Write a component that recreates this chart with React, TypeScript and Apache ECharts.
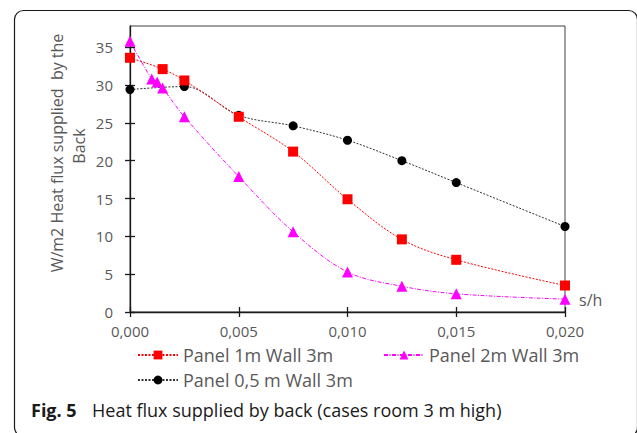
import React, { useEffect, useRef } from "react";
import * as echarts from "echarts";

const panel1mX = [0, 0.0015, 0.0025, 0.005, 0.0075, 0.01, 0.0125, 0.015, 0.02];
const panel1mY = [33.6, 32.1, 30.6, 25.8, 21.2, 14.9, 9.6, 6.9, 3.5];
const panel2mX = [0, 0.001, 0.00125, 0.0015, 0.0025, 0.005, 0.0075, 0.01, 0.0125, 0.015, 0.02];
const panel2mY = [35.8, 30.8, 30.4, 29.6, 25.8, 17.9, 10.6, 5.3, 3.4, 2.4, 1.7];
const panel05X = [0, 0.0025, 0.005, 0.0075, 0.01, 0.0125, 0.015, 0.02];
const panel05Y = [29.4, 29.8, 26.0, 24.6, 22.7, 20.0, 17.1, 11.3];
const yTicks = [0, 5, 10, 15, 20, 25, 30, 35];
const xTicks = [0, 0.005, 0.01, 0.015, 0.02];
const seriesNames = ["Panel 1m Wall 3m", "Panel 2m Wall 3m", "Panel 0,5 m Wall 3m"];

const FONT = "'Open Sans', 'Noto Sans', sans-serif";
const GRAY = "#595959";

const pairs = (xs: number[], ys: number[]) => xs.map((x, i) => [x, ys[i]]);
const fmtX = (v: number) => v.toFixed(3).replace(".", ",");

export default function App() {
  const ref = useRef<HTMLDivElement>(null);
  useEffect(() => {
    document.body.style.margin = "0";
    if (!ref.current) return;
    const chart = echarts.init(ref.current, undefined, { renderer: "svg" });
    const baseX = {
      type: "value",
      min: 0,
      max: 0.02,
      interval: 0.005,
      splitLine: { show: false },
    };
    const baseY = {
      type: "value",
      min: 0,
      max: 37.8,
      interval: 5,
      splitLine: { show: false },
    };
    const legendCommon = {
      padding: 0,
      itemWidth: 40,
      itemHeight: 11,
      itemGap: 6,
      textStyle: { color: GRAY, fontSize: 18, fontFamily: FONT },
    };
    chart.setOption({
      animation: false,
      backgroundColor: "#ffffff",
      textStyle: { fontFamily: FONT },
      grid: {
        left: 130,
        top: 26,
        right: 72,
        bottom: 121,
        show: true,
        borderColor: "#404040",
        borderWidth: 1,
      },
      xAxis: [
        {
          ...baseX,
          position: "bottom",
          axisLine: { show: true, lineStyle: { color: "#1a1a1a", width: 1.3 } },
          axisTick: { show: true, inside: false, length: 5, customValues: xTicks, lineStyle: { color: "#1a1a1a", width: 1.3 } },
          axisLabel: {
            customValues: xTicks,
            formatter: (v: number) => fmtX(v),
            color: GRAY,
            fontSize: 15,
            fontFamily: FONT,
            margin: 11,
          },
        },
        {
          ...baseX,
          position: "bottom",
          axisLine: { show: false },
          axisTick: { show: true, inside: true, length: 5, customValues: xTicks, lineStyle: { color: "#1a1a1a", width: 1.3 } },
          axisLabel: { show: false },
        },
      ],
      yAxis: [
        {
          ...baseY,
          position: "left",
          axisLine: { show: true, lineStyle: { color: "#1a1a1a", width: 1.3 } },
          axisTick: { show: true, inside: false, length: 5, customValues: yTicks, lineStyle: { color: "#1a1a1a", width: 1.3 } },
          axisLabel: {
            customValues: yTicks,
            color: GRAY,
            fontSize: 15,
            fontFamily: FONT,
            margin: 17,
          },
        },
        {
          ...baseY,
          position: "left",
          axisLine: { show: false },
          axisTick: { show: true, inside: true, length: 5, customValues: yTicks, lineStyle: { color: "#1a1a1a", width: 1.3 } },
          axisLabel: { show: false },
        },
      ],
      legend: [
        { ...legendCommon, data: [seriesNames[0]], left: 137, top: 346 },
        { ...legendCommon, data: [seriesNames[1]], left: 383, top: 346 },
        { ...legendCommon, data: [seriesNames[2]], left: 137, top: 371 },
      ],
      series: [
        {
          name: seriesNames[0],
          type: "line",
          xAxisIndex: 0,
          yAxisIndex: 0,
          data: pairs(panel1mX, panel1mY),
          smooth: 0.35,
          symbol: "rect",
          symbolSize: 10,
          itemStyle: { color: "#ff0000" },
          lineStyle: { color: "#ff0000", width: 1, type: [2, 1.5] },
          z: 3,
        },
        {
          name: seriesNames[1],
          type: "line",
          xAxisIndex: 0,
          yAxisIndex: 0,
          data: pairs(panel2mX, panel2mY),
          smooth: 0.35,
          symbol: "triangle",
          symbolSize: 11,
          itemStyle: { color: "#ff00ff" },
          lineStyle: { color: "#ff00ff", width: 1, type: [4, 1.5, 1, 1.5] },
          z: 4,
        },
        {
          name: seriesNames[2],
          type: "line",
          xAxisIndex: 0,
          yAxisIndex: 0,
          data: pairs(panel05X, panel05Y),
          smooth: 0.35,
          symbol: "circle",
          symbolSize: 9,
          itemStyle: { color: "#000000" },
          lineStyle: { color: "#333333", width: 1, type: [2, 1.5] },
          z: 2,
        },
      ],
      graphic: [
        {
          type: "rect",
          shape: { x: 14.5, y: 10.5, width: 623, height: 426, r: 9 },
          style: { fill: "none", stroke: "#1a1a1a", lineWidth: 1.2 },
          silent: true,
        },
        {
          type: "text",
          x: 57,
          y: 153,
          rotation: Math.PI / 2,
          style: {
            text: "W/m2 Heat flux supplied  by the",
            fill: GRAY,
            font: `16px ${FONT}`,
            align: "center",
            verticalAlign: "middle",
          },
        },
        {
          type: "text",
          x: 79,
          y: 146,
          rotation: Math.PI / 2,
          style: {
            text: "Back",
            fill: GRAY,
            font: `16px ${FONT}`,
            align: "center",
            verticalAlign: "middle",
          },
        },
        {
          type: "text",
          x: 579,
          y: 300,
          style: {
            text: "s/h",
            fill: GRAY,
            font: `16px ${FONT}`,
            align: "left",
            verticalAlign: "middle",
          },
        },
        {
          type: "text",
          x: 31,
          y: 410,
          style: {
            text: "Fig. 5",
            fill: "#1a1a1a",
            font: `bold 18px ${FONT}`,
            align: "left",
            verticalAlign: "middle",
          },
        },
        {
          type: "text",
          x: 92,
          y: 410,
          style: {
            text: "Heat flux supplied by back (cases room 3 m high)",
            fill: "#1a1a1a",
            font: `18px ${FONT}`,
            align: "left",
            verticalAlign: "middle",
          },
        },
      ],
    });
    return () => chart.dispose();
  }, []);
  return <div ref={ref} style={{ width: 637, height: 433 }} />;
}
